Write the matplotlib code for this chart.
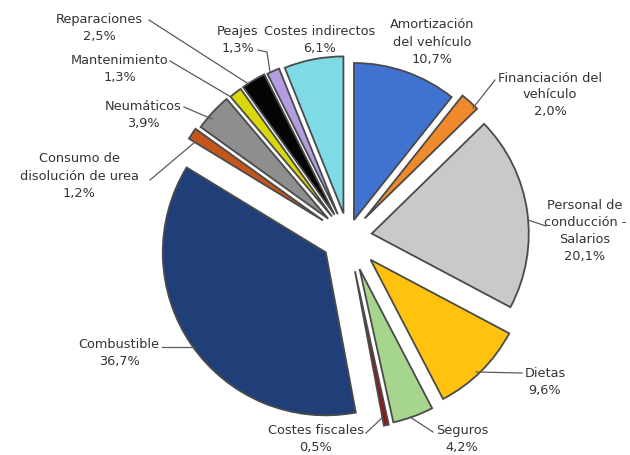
import numpy as np
import matplotlib.pyplot as plt

# cost shares (%), clockwise from 12 o'clock
labels = ["Amortización\ndel vehículo\n10,7%", "Financiación del\nvehículo\n2,0%",
          "Personal de\nconducción -\nSalarios\n20,1%", "Dietas\n9,6%", "Seguros\n4,2%",
          "Costes fiscales\n0,5%", "Combustible\n36,7%",
          "Consumo de\ndisolución de urea\n1,2%", "Neumáticos\n3,9%",
          "Mantenimiento\n1,3%", "Reparaciones\n2,5%", "Peajes\n1,3%",
          "Costes indirectos\n6,1%"]
values = [10.7, 2.0, 20.1, 9.6, 4.2, 0.5, 36.7, 1.2, 3.9, 1.3, 2.5, 1.3, 6.1]
colors = ["#4072d0", "#f08a2c", "#c9c9c9", "#ffc20e", "#a6d58e", "#8b1a1a", "#203f78",
          "#c4561c", "#8e8e8e", "#d8d80a", "#050505", "#b39ce0", "#7edbe6"]
# offsets of each slice from the centre, in pixels
explode = [18, 25, 24, 32, 34, 35, 27, 30, 27, 26, 26, 25, 24]

# label text centres and leader lines (pixel coords, y down)
label_xy = [(432, 42), (550, 95), (585, 231), (545, 382), (462, 439), (316, 439),
            (119, 353), (79, 176), (143, 115), (120, 69), (99, 28), (238, 40), (320, 40)]
leaders = [None, [(495, 80), (473, 108)], [(546, 226), (528, 220)],
           [(522, 373), (476, 372)], [(433, 432), (410, 417)], [(366, 433), (382, 418)],
           [(162, 347), (194, 347)], [(150, 180), (195, 142)], [(184, 107), (212, 119)],
           [(170, 61), (231, 97)], [(149, 20), (247, 83)],
           [(258, 50), (267, 52), (270, 72)], None]

H = 455
R = 157
fig = plt.figure(figsize=(6.3, 4.55), dpi=100)
ax = fig.add_axes([0, 0, 1, 1])

wedges, _ = ax.pie(values, colors=colors, explode=explode, startangle=90,
                   counterclock=False, center=(348, H - 237), radius=R,
                   wedgeprops=dict(edgecolor="#4a4a4a", linewidth=1.3), frame=True)
# the fuel slice is drawn a bit larger in the original
wedges[6].set_radius(163)

ax.set_xlim(0, 630)
ax.set_ylim(0, H)
ax.set_aspect("equal")
ax.axis("off")

for lab, (x, y) in zip(labels, label_xy):
    ax.text(x, H - y, lab, ha="center", va="center", fontsize=9.3,
            color="#333333", linespacing=1.4)

for ln in leaders:
    if ln is None:
        continue
    xs = [p[0] for p in ln]
    ys = [H - p[1] for p in ln]
    ax.plot(xs, ys, color="#5a5a5a", lw=0.9)

fig.savefig("out.png", dpi=100, facecolor="white")
